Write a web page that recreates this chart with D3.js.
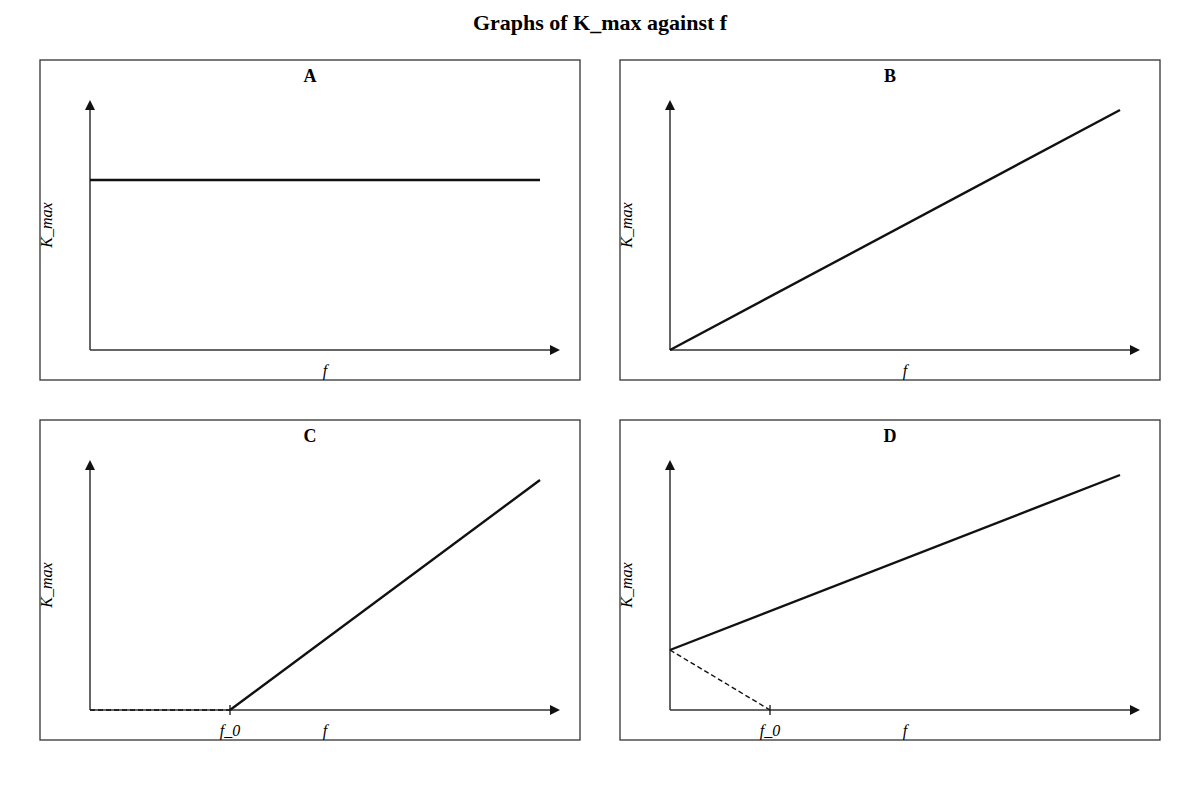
<!DOCTYPE html>
<html>
<head>
<meta charset="utf-8">
<script src="https://cdn.jsdelivr.net/npm/d3@7"></script>
<style>
  body { margin: 0; background: #fff; }
  svg text { font-family: "Liberation Serif", "DejaVu Serif", serif; }
</style>
</head>
<body>
<div id="root"></div>
<script>
// panel names and data (arbitrary units: f from 0..45, K_max from 0..25)
var panels = ["A", "B", "C", "D"];
var solidLines = {
  A: [[0, 17], [45, 17]],
  B: [[0, 0], [45, 24]],
  C: [[14, 0], [45, 23]],
  D: [[0, 6], [45, 23.5]]
};
var dashedLines = {
  A: [],
  B: [],
  C: [[0, 0], [14, 0]],
  D: [[0, 6], [10, 0]]
};
var f0Ticks = { A: null, B: null, C: 14, D: 10 };
var axisMax = [47, 25]; // arrow tips

var W = 1200, H = 800;
var svg = d3.select("#root").append("svg")
  .attr("width", W).attr("height", H);

svg.append("text")
  .attr("x", W / 2).attr("y", 30)
  .attr("text-anchor", "middle")
  .style("font-size", "22px").style("font-weight", "bold")
  .text("Graphs of K_max against f");

var config = { pw: 540, ph: 320, x0: 40, y0: 60, dx: 580, dy: 360 };

var defs = svg.append("defs");

panels.forEach(function(p, i) {
  var px = config.x0 + (i % 2) * config.dx;
  var py = config.y0 + Math.floor(i / 2) * config.dy;
  var g = svg.append("g").attr("transform", "translate(" + px + "," + py + ")");

  g.append("rect")
    .attr("width", config.pw).attr("height", config.ph)
    .attr("fill", "none").attr("stroke", "#333").attr("stroke-width", 1.3);

  g.append("text")
    .attr("x", config.pw / 2).attr("y", 22)
    .attr("text-anchor", "middle")
    .style("font-size", "18px").style("font-weight", "bold")
    .text(p);

  // scales: origin at (50, 290)
  var x = d3.scaleLinear().domain([0, axisMax[0]]).range([50, 520]);
  var y = d3.scaleLinear().domain([0, axisMax[1]]).range([290, 40]);

  // axes with arrowheads
  g.append("line")
    .attr("x1", x(0)).attr("y1", y(0)).attr("x2", x(axisMax[0]) - 8).attr("y2", y(0))
    .attr("stroke", "#333").attr("stroke-width", 1.5);
  g.append("path")
    .attr("d", "M" + x(axisMax[0]) + "," + y(0) + "l-10,-5l0,10z")
    .attr("fill", "#111");
  g.append("line")
    .attr("x1", x(0)).attr("y1", y(0)).attr("x2", x(0)).attr("y2", y(axisMax[1]) + 8)
    .attr("stroke", "#333").attr("stroke-width", 1.5);
  g.append("path")
    .attr("d", "M" + x(0) + "," + y(axisMax[1]) + "l-5,10l10,0z")
    .attr("fill", "#111");

  // axis labels
  g.append("text")
    .attr("x", x(axisMax[0] / 2)).attr("y", 316)
    .attr("text-anchor", "middle")
    .style("font-size", "16px").style("font-style", "italic")
    .text("f");
  g.append("text")
    .attr("transform", "translate(12," + y(axisMax[1] / 2) + ") rotate(-90)")
    .attr("text-anchor", "middle")
    .style("font-size", "16px").style("font-style", "italic")
    .text("K_max");

  var line = d3.line()
    .x(function(d) { return x(d[0]); })
    .y(function(d) { return y(d[1]); });

  if (dashedLines[p].length) {
    g.append("path")
      .attr("d", line(dashedLines[p]))
      .attr("fill", "none").attr("stroke", "#111")
      .attr("stroke-width", 1.4).attr("stroke-dasharray", "5,3");
  }

  g.append("path")
    .attr("d", line(solidLines[p]))
    .attr("fill", "none").attr("stroke", "#111").attr("stroke-width", 2.4);

  if (f0Ticks[p] !== null) {
    g.append("line")
      .attr("x1", x(f0Ticks[p])).attr("x2", x(f0Ticks[p]))
      .attr("y1", y(0) - 5).attr("y2", y(0) + 5)
      .attr("stroke", "#111").attr("stroke-width", 1.3);
    g.append("text")
      .attr("x", x(f0Ticks[p])).attr("y", 316)
      .attr("text-anchor", "middle")
      .style("font-size", "16px").style("font-style", "italic")
      .text("f_0");
  }
});
</script>
</body>
</html>
